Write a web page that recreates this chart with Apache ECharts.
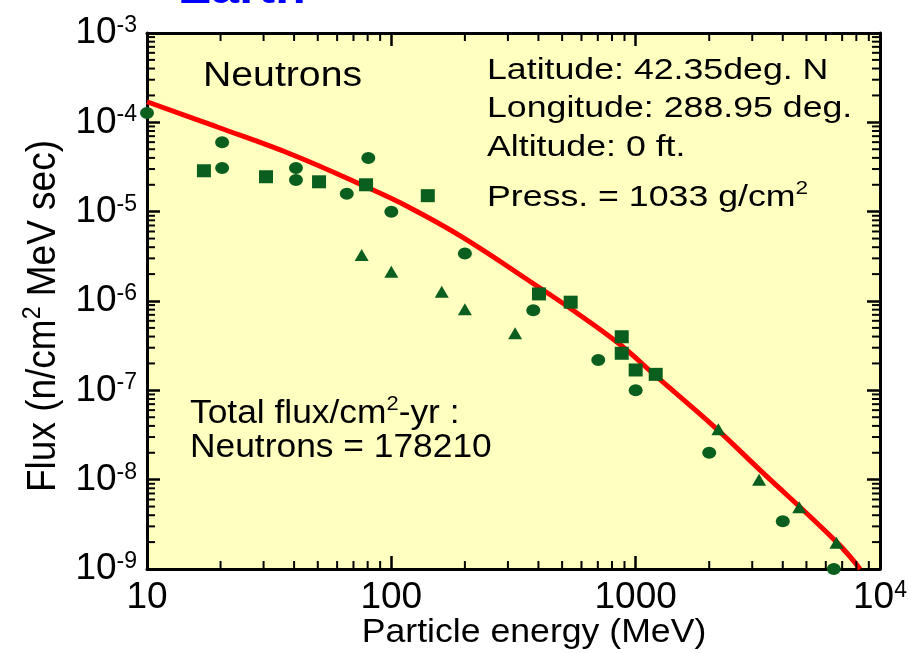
<!DOCTYPE html>
<html><head><meta charset="utf-8">
<script src="https://cdn.jsdelivr.net/npm/echarts@6/dist/echarts.min.js"></script>
<style>html,body{margin:0;padding:0;background:#fff}#c{width:911px;height:653px}</style>
</head><body><div id="c"></div>
<script>
// ---- data (energy in MeV, flux in n/cm^2 MeV sec) ----
const curveE    = [10, 19.25, 39.6, 78.6, 117, 193.8, 398.6, 551.8, 850.4, 1219, 2094, 3230, 6650, 8290];
const curveFlux = [1.7e-4, 8.93e-5, 4.31e-5, 1.9e-5, 1.136e-5, 5.25e-6, 1.445e-6, 7.93e-7, 3.36e-7, 1.42e-7, 3.92e-8, 1.28e-8, 2.0e-9, 1.0e-9];

const circleE    = [10, 20.3, 20.3, 40.7, 40.7, 65.7, 80.5, 100, 200, 381, 703, 1000, 2000, 4000, 6470];
const circleFlux = [1.27e-4, 6.0e-5, 3.08e-5, 3.08e-5, 2.26e-5, 1.59e-5, 3.99e-5, 1.0e-5, 3.4e-6, 7.9e-7, 2.19e-7, 1.0e-7, 2.0e-8, 3.42e-9, 1.0e-9];

const squareE    = [17.1, 30.7, 50.6, 78.8, 141, 402, 542, 877, 877, 1000, 1208];
const squareFlux = [2.87e-5, 2.46e-5, 2.16e-5, 2.0e-5, 1.51e-5, 1.2e-6, 9.7e-7, 3.98e-7, 2.6e-7, 1.69e-7, 1.51e-7];

const triE    = [75.6, 100, 160.8, 200, 321, 2180, 3200, 4670, 6630];
const triFlux = [3.27e-6, 2.13e-6, 1.27e-6, 8.1e-7, 4.35e-7, 3.66e-8, 1.0e-8, 4.9e-9, 1.97e-9];

// tick labels
const xTickValues = [10, 100, 1000, 10000];
const xTickBase   = ['10', '100', '1000', '10'];
const xTickExp    = ['', '', '', '4'];
const yTickExp    = ['-9', '-8', '-7', '-6', '-5', '-4', '-3'];

// axis ranges
const xMin = 10, xMax = 10000, yMin = 1e-9, yMax = 1e-3;

// minor tick values (2..9 of each decade)
const minorX = [], minorY = [];
for (let d = 10; d < xMax; d *= 10) for (let k = 2; k <= 9; k++) minorX.push([k * d, yMin]);
for (let e = -9; e < -3; e++) for (let k = 2; k <= 9; k++) minorY.push([xMin, k * Math.pow(10, e)]);

const zip = (a, b) => a.map((v, i) => [v, b[i]]);

const FONT = 'Liberation Sans, Arial, Helvetica, sans-serif';
const GREEN = '#0a5e1e';
const SX = 1.19;

const chart = echarts.init(document.getElementById('c'), null, {renderer: 'canvas'});

const labelRich = {
  b: {fontSize: 37, lineHeight: 38, fontFamily: FONT, color: '#000'},
  s: {fontSize: 23, fontFamily: FONT, color: '#000', verticalAlign: 'top'}
};

function xLabel(v) {
  const i = xTickValues.findIndex(t => Math.abs(t - v) / t < 1e-6);
  if (i < 0) return '';
  return '{b|' + xTickBase[i] + '}' + (xTickExp[i] ? '{s|' + xTickExp[i] + '}' : '');
}
function yLabel(v) {
  const e = Math.round(Math.log10(v));
  const i = e + 9;
  if (i < 0 || i >= yTickExp.length) return '';
  return '{b|10}{s|' + yTickExp[i] + '}';
}

const axisLine = {show: true, lineStyle: {color: '#000', width: 3}};
const majorTick = {show: true, inside: true, length: 13, lineStyle: {color: '#000', width: 2.5}};

function tickItem(isX) {
  return function (params, api) {
    const v0 = api.value(0), v1 = api.value(1);
    let a, b;
    if (isX) {
      a = api.coord([v0, yMin]); b = api.coord([v0, yMax]);
      return {type: 'group', children: [
        {type: 'line', shape: {x1: a[0], y1: a[1], x2: a[0], y2: a[1] - 8}, style: {stroke: '#000', lineWidth: 2}},
        {type: 'line', shape: {x1: b[0], y1: b[1], x2: b[0], y2: b[1] + 8}, style: {stroke: '#000', lineWidth: 2}}
      ]};
    } else {
      a = api.coord([xMin, v1]); b = api.coord([xMax, v1]);
      return {type: 'group', children: [
        {type: 'line', shape: {x1: a[0], y1: a[1], x2: a[0] + 8, y2: a[1]}, style: {stroke: '#000', lineWidth: 2}},
        {type: 'line', shape: {x1: b[0], y1: b[1], x2: b[0] - 8, y2: b[1]}, style: {stroke: '#000', lineWidth: 2}}
      ]};
    }
  };
}

function gText(x, y, rich, text, size, opts) {
  opts = opts || {};
  return {
    type: 'text', x: x, y: y, scaleX: opts.scaleX || SX, scaleY: opts.scaleY || 1,
    rotation: opts.rotation || 0, z: 100,
    style: {
      text: text, fill: opts.color || '#000',
      font: (opts.bold ? 'bold ' : '') + size + 'px ' + FONT,
      textAlign: opts.align || 'left', textVerticalAlign: 'middle',
      rich: rich
    }
  };
}
const txtRich = (size) => ({
  a: {fontSize: size, fontFamily: FONT, color: '#000', lineHeight: size + 6},
  s: {fontSize: Math.round(size * 0.62), fontFamily: FONT, color: '#000', verticalAlign: 'top'}
});

const axisLabelBase = {fontSize: 37, fontFamily: FONT, color: '#000', rich: labelRich,
  showMinLabel: true, showMaxLabel: true, hideOverlap: false};

const option = {
  backgroundColor: '#fff',
  animation: false,
  grid: {left: 147, top: 33, width: 733, height: 536, show: true, backgroundColor: '#ffffc0', borderWidth: 0, containLabel: false},
  xAxis: [
    {type: 'log', logBase: 10, min: xMin, max: xMax, splitNumber: 3, position: 'bottom',
     axisLine: axisLine, axisTick: majorTick, splitLine: {show: false}, minorTick: {show: false},
     axisLabel: Object.assign({}, axisLabelBase, {margin: 10, formatter: xLabel})},
    {type: 'log', logBase: 10, min: xMin, max: xMax, splitNumber: 3, position: 'top',
     axisLine: axisLine, axisTick: majorTick, splitLine: {show: false}, axisLabel: {show: false}}
  ],
  yAxis: [
    {type: 'log', logBase: 10, min: yMin, max: yMax, splitNumber: 6, position: 'left',
     axisLine: axisLine, axisTick: majorTick, splitLine: {show: false},
     axisLabel: Object.assign({}, axisLabelBase, {margin: 10, formatter: yLabel})},
    {type: 'log', logBase: 10, min: yMin, max: yMax, splitNumber: 6, position: 'right',
     axisLine: axisLine, axisTick: majorTick, splitLine: {show: false}, axisLabel: {show: false}}
  ],
  series: [
    {type: 'custom', name: 'xminor', coordinateSystem: 'cartesian2d', xAxisIndex: 0, yAxisIndex: 0, silent: true, z: 10,
     data: minorX, renderItem: tickItem(true)},
    {type: 'custom', name: 'yminor', coordinateSystem: 'cartesian2d', xAxisIndex: 0, yAxisIndex: 0, silent: true, z: 10,
     data: minorY, renderItem: tickItem(false)},
    {type: 'line', name: 'model', data: zip(curveE, curveFlux), smooth: 0.4, showSymbol: false, symbol: 'none',
     lineStyle: {color: '#ff0000', width: 5}, z: 3, clip: true},
    {type: 'scatter', name: 'circles', data: zip(circleE, circleFlux), symbol: 'circle', symbolSize: [14, 12],
     itemStyle: {color: GREEN, opacity: 1}, z: 4, clip: false},
    {type: 'scatter', name: 'squares', data: zip(squareE, squareFlux), symbol: 'rect', symbolSize: [14, 13],
     itemStyle: {color: GREEN, opacity: 1}, z: 4, clip: false},
    {type: 'scatter', name: 'triangles', data: zip(triE, triFlux), symbol: 'triangle', symbolSize: [14, 12],
     itemStyle: {color: GREEN, opacity: 1}, z: 4, clip: false}
  ],
  graphic: [
    gText(178, -9, null, 'Earth', 42, {bold: true, color: '#0000ff'}),
    gText(203, 76, null, 'Neutrons', 35, {scaleX: 1.12}),
    gText(487, 71, null, 'Latitude: 42.35deg. N', 30),
    gText(487, 109, null, 'Longitude: 288.95 deg.', 30),
    gText(487, 147.5, null, 'Altitude: 0 ft.', 30),
    gText(487, 197.5, txtRich(30), '{a|Press. = 1033 g/cm}{s|2}', 30),
    gText(190, 414, txtRich(34), '{a|Total flux/cm}{s|2}{a|-yr :}', 34, {scaleX: 1.04}),
    gText(190, 447.5, null, 'Neutrons = 178210', 34, {scaleX: 1.04}),
    gText(534, 633, null, 'Particle energy (MeV)', 33, {align: 'center', scaleX: 1.08}),
    gText(44, 316, txtRich(37), '{a|Flux (n/cm}{s|2}{a| MeV sec)}', 37, {align: 'center', rotation: Math.PI / 2, scaleX: 1, scaleY: 1.12})
  ]
};
chart.setOption(option);
</script>
</body></html>
